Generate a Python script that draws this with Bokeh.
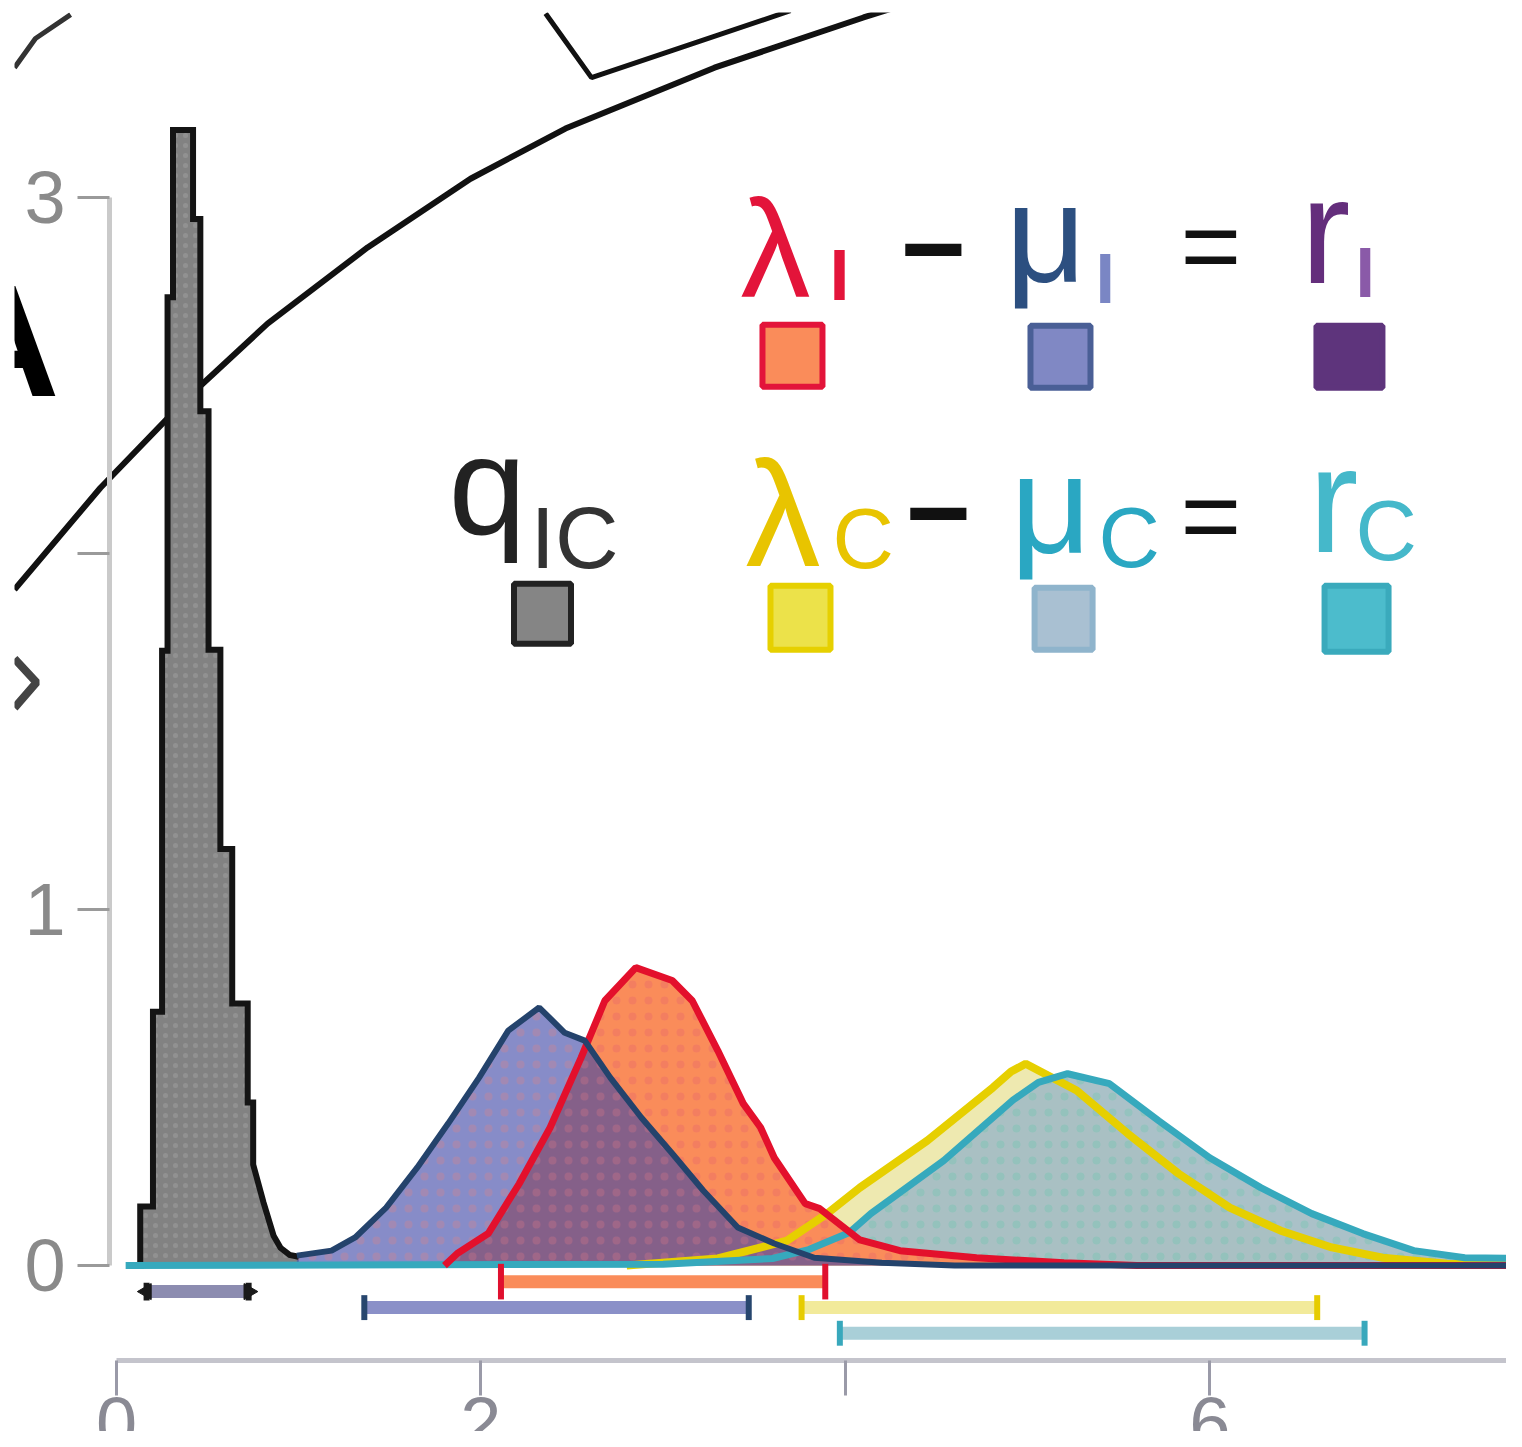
from bokeh.plotting import figure
from bokeh.models import Range1d, LinearAxis, FixedTicker, ColumnDataSource
from bokeh.core.properties import value
from bokeh.embed import file_html
from bokeh.resources import INLINE

FONT = "Liberation Sans"

# ---------------- data ----------------
q_edges = [0.13, 0.20, 0.25, 0.28, 0.31, 0.42, 0.46, 0.505, 0.57, 0.635, 0.72, 0.75]
q_heights = [0.166, 0.713, 1.727, 2.72, 3.19, 2.94, 2.40, 1.73, 1.17, 0.736, 0.458]
q_tail_x = [0.75, 0.75, 0.807, 0.862, 0.90, 0.95, 1.00]
q_tail_y = [0.458, 0.284, 0.177, 0.084, 0.05, 0.03, 0.025]

mu_i_x = [0.99, 1.18, 1.31, 1.48, 1.65, 1.82, 1.99, 2.15, 2.32, 2.46, 2.57, 2.71,
          2.88, 3.05, 3.22, 3.41, 3.61, 3.83, 4.2, 4.6, 7.8]
mu_i_y = [0.028, 0.042, 0.079, 0.163, 0.275, 0.399, 0.528, 0.660, 0.725, 0.654, 0.632, 0.528,
          0.416, 0.315, 0.211, 0.107, 0.062, 0.022, 0.008, 0.0, 0.0]

lam_i_x = [1.8, 1.87, 2.04, 2.21, 2.38, 2.55, 2.68, 2.85, 3.05, 3.16, 3.30, 3.44,
           3.535, 3.61, 3.78, 3.86, 4.08, 4.30, 4.72, 5.2, 5.6, 7.8]
lam_i_y = [0.0, 0.034, 0.090, 0.230, 0.388, 0.584, 0.744, 0.837, 0.801, 0.744, 0.604, 0.455,
           0.388, 0.303, 0.174, 0.160, 0.072, 0.042, 0.022, 0.008, 0.0, 0.0]

lam_c_x = [2.8, 3.3, 3.68, 3.90, 4.08, 4.45, 4.81, 4.91, 4.99, 5.27, 5.55, 5.83, 6.11,
           6.39, 6.67, 6.95, 7.3, 7.8]
lam_c_y = [0.0, 0.02, 0.070, 0.146, 0.219, 0.351, 0.500, 0.545, 0.567, 0.492, 0.371, 0.258, 0.163,
           0.098, 0.051, 0.022, 0.005, 0.0]

mu_c_x = [0.05, 3.0, 3.6, 3.8, 4.02, 4.14, 4.54, 4.92, 5.06, 5.22, 5.45, 5.72, 6.0,
          6.28, 6.56, 6.84, 7.12, 7.40, 7.71, 7.8]
mu_c_y = [0.0, 0.004, 0.02, 0.045, 0.092, 0.146, 0.295, 0.465, 0.515, 0.539, 0.511, 0.407, 0.303,
          0.219, 0.146, 0.090, 0.042, 0.022, 0.02, 0.018]

int_lo = [0.165, 1.36, 2.11, 3.76, 3.97]
int_hi = [0.725, 3.47, 3.89, 6.59, 6.85]
int_row = [-0.073, -0.118, -0.045, -0.118, -0.19]
int_cap = [0.025, 0.035, 0.05, 0.035, 0.035]
int_bar_color = ["#8c8cb0", "#8a90c8", "#fa8c5a", "#f2ea9a", "#a9cfd8"]
int_cap_color = ["#1a1a1a", "#27466e", "#e0102e", "#e6cc00", "#38a8bc"]

y_ticks = [0, 1, 2, 3]
y_tick_labels = ["0", "1", "", "3"]
x_ticks = [0, 2, 4, 6, 8]
x_tick_labels = ["0", "2", "", "6", "8"]

arc_x = [-0.560, -0.088, 0.390, 0.829, 1.378, 1.943, 2.464, 3.282, 4.100, 4.303]
arc_y = [1.899, 2.185, 2.438, 2.646, 2.860, 3.053, 3.194, 3.365, 3.506, 3.539]
corner_x = [2.355, 2.607, 3.699]
corner_y = [3.517, 3.337, 3.525]
tl_x = [-0.560, -0.445, -0.252]
tl_y = [3.365, 3.447, 3.514]
wedge_x = [-0.560, -0.439, -0.560]
wedge_y = [1.705, 1.638, 1.567]

SHIFT = 0.35 / 356.0


def up(y, fs):
    return y + SHIFT * fs


# ---------------- figure ----------------
p = figure(width=1506, height=1431, output_backend="svg", toolbar_location=None,
           x_range=Range1d(-0.560, 7.629), y_range=Range1d(-0.466, 3.520),
           x_axis_location=None, y_axis_location=None,
           min_border_left=14, min_border_top=12, min_border_right=0, min_border_bottom=0)
p.outline_line_color = None
p.xgrid.visible = False
p.ygrid.visible = False

yax = LinearAxis(fixed_location=-0.038, bounds=(0, 3))
yax.ticker = FixedTicker(ticks=y_ticks)
yax.major_label_overrides = {t: l for t, l in zip(y_ticks, y_tick_labels)}
yax.minor_tick_line_color = None
yax.axis_line_color = "#cacaca"
yax.axis_line_width = 5
yax.major_tick_line_color = "#9a9a9a"
yax.major_tick_line_width = 3
yax.major_tick_out = 32
yax.major_tick_in = 0
yax.major_label_text_font = FONT
yax.major_label_text_font_size = "74px"
yax.major_label_text_color = "#8a8a8a"
yax.major_label_standoff = 12
p.add_layout(yax, "left")

xax = LinearAxis(fixed_location=-0.267, bounds=(0, 9))
xax.ticker = FixedTicker(ticks=x_ticks)
xax.major_label_overrides = {t: l for t, l in zip(x_ticks, x_tick_labels)}
xax.minor_tick_line_color = None
xax.axis_line_color = "#c4c4cc"
xax.axis_line_width = 5
xax.major_tick_line_color = "#9a9aa8"
xax.major_tick_line_width = 3
xax.major_tick_out = 35
xax.major_tick_in = 0
xax.major_label_text_font = FONT
xax.major_label_text_font_size = "74px"
xax.major_label_text_color = "#8a8a94"
xax.major_label_standoff = 2
p.add_layout(xax, "below")

# neighbouring-panel fragments
p.line(arc_x, arc_y, line_color="#111111", line_width=6)
p.line(corner_x, corner_y, line_color="#111111", line_width=5)
p.line(tl_x, tl_y, line_color="#333333", line_width=5)
p.line(wedge_x, wedge_y, line_color="#444444", line_width=8)

# ---------------- fills ----------------
hx = [q_edges[0]]
hy = [0.0]
for i, h in enumerate(q_heights):
    hx += [q_edges[i], q_edges[i + 1]]
    hy += [h, h]
line_hx = hx + q_tail_x[1:]
line_hy = hy + q_tail_y[1:]
poly_hx = line_hx + [q_tail_x[-1]]
poly_hy = line_hy + [0.0]

p.patch(poly_hx, poly_hy, fill_color="#828282", line_color=None,
        hatch_pattern=".", hatch_color="#a8a8a8", hatch_alpha=0.4, hatch_scale=10)
p.varea(x=lam_c_x, y1=[0] * len(lam_c_x), y2=lam_c_y, fill_color="#eee9b0")
p.varea(x=mu_c_x, y1=[0] * len(mu_c_x), y2=mu_c_y, fill_color="#a4bcc4", fill_alpha=0.93,
        hatch_pattern=".", hatch_color="#6cc6b0", hatch_alpha=0.35, hatch_scale=16)
p.varea(x=lam_i_x, y1=[0] * len(lam_i_x), y2=lam_i_y, fill_color="#fa8c5a",
        hatch_pattern=".", hatch_color="#e86a6a", hatch_alpha=0.4, hatch_scale=16)
p.varea(x=mu_i_x, y1=[0] * len(mu_i_x), y2=mu_i_y, fill_color="#3d45a6", fill_alpha=0.62,
        hatch_pattern=".", hatch_color="#e08080", hatch_alpha=0.3, hatch_scale=16)

# ---------------- lines ----------------
p.line(line_hx, line_hy, line_color="#141414", line_width=6, line_join="miter")
p.line(lam_c_x, lam_c_y, line_color="#e6cf00", line_width=8)
p.line(mu_c_x, mu_c_y, line_color="#36a9bd", line_width=7)
p.line(lam_i_x, lam_i_y, line_color="#e3102c", line_width=7)
p.line(mu_i_x, mu_i_y, line_color="#24436c", line_width=6)

# ---------------- intervals ----------------
isrc = ColumnDataSource(dict(lo=int_lo, hi=int_hi, row=int_row, bar=int_bar_color, cap=int_cap_color,
                             top=[r + c for r, c in zip(int_row, int_cap)],
                             bot=[r - c for r, c in zip(int_row, int_cap)]))
p.segment(x0="lo", y0="row", x1="hi", y1="row", source=isrc, line_color="bar", line_width=13)
p.segment(x0="lo", y0="top", x1="lo", y1="bot", source=isrc, line_color="cap", line_width=6)
p.segment(x0="hi", y0="top", x1="hi", y1="bot", source=isrc, line_color="cap", line_width=6)
p.scatter([int_lo[0]], [int_row[0]], marker="triangle", angle=1.5708, size=16,
          fill_color="#1a1a1a", line_color="#1a1a1a")
p.scatter([int_hi[0]], [int_row[0]], marker="triangle", angle=-1.5708, size=16,
          fill_color="#1a1a1a", line_color="#1a1a1a")

# ---------------- legend squares ----------------
sq = ColumnDataSource(dict(
    x=[2.338, 3.710, 5.181, 6.767, 3.754, 5.198, 6.806],
    y=[1.831, 2.556, 2.553, 2.553, 1.820, 1.817, 1.817],
    w=[57, 60, 60, 66, 60, 58, 64],
    h=[60, 62, 62, 62, 64, 62, 66],
    f=["#858585", "#fa8c5a", "#8088c4", "#5e347c", "#ece24a", "#a9c0d2", "#4cbccc"],
    l=["#222222", "#e3143a", "#4a5f96", "#5e347c", "#e6d000", "#8fb4cc", "#3aaabc"],
))
p.rect(x="x", y="y", width="w", height="h", width_units="screen", height_units="screen",
       fill_color="f", line_color="l", line_width=6, source=sq)

# ---------------- texts ----------------
p.text(x=[-0.313], y=[up(2.441, 160)], text=["A"], text_font=value(FONT), text_font_style="bold",
       text_font_size="160px", text_align="right", text_baseline="alphabetic", text_color="#000000")

big_x = [3.425, 4.879, 6.498, 1.822, 3.452, 4.907, 6.542]
big_y = [2.719, 2.761, 2.758, 2.053, 1.963, 2.000, 2.003]
big_t = ["λ", "μ", "r", "q", "λ", "μ", "r"]
big_s = [140, 140, 150, 140, 150, 140, 150]
big_c = ["#e3143a", "#2c4f80", "#642e7c", "#222222", "#e8c400", "#2aa7c2", "#45b8ca"]
for xx, yy, tt, ss, cc in zip(big_x, big_y, big_t, big_s, big_c):
    p.text(x=[xx], y=[up(yy, ss)], text=[tt], text_font=value(FONT), text_font_size=f"{ss}px",
           text_color=cc, text_baseline="alphabetic", text_align="left")

sub_x = [3.913, 5.373, 6.800, 2.272, 3.930, 5.390, 6.800]
sub_y = [2.711, 2.702, 2.719, 1.958, 1.958, 1.963, 1.980]
sub_t = ["I", "I", "I", "IC", "C", "C", "C"]
sub_s = [72, 70, 70, 88, 85, 85, 85]
sub_w = ["bold", "bold", "bold", "normal", "normal", "normal", "normal"]
sub_c = ["#e3143a", "#7a86c4", "#8a5aa8", "#333333", "#e8c400", "#2aa7c2", "#45b8ca"]
for xx, yy, tt, ss, ww, cc in zip(sub_x, sub_y, sub_t, sub_s, sub_w, sub_c):
    p.text(x=[xx], y=[up(yy, ss)], text=[tt], text_font=value(FONT), text_font_size=f"{ss}px",
           text_font_style=ww, text_color=cc, text_baseline="alphabetic", text_align="left")

minus_x = [4.303, 4.330]
minus_y = [2.747, 2.006]
for xx, yy in zip(minus_x, minus_y):
    p.text(x=[xx], y=[up(yy, 112)], text=["−"], text_font=value(FONT), text_font_size="112px",
           text_font_style="bold", text_color="#111111", text_baseline="alphabetic", text_align="left")

eq_x = [5.840, 5.840]
eq_y = [2.764, 2.006]
for xx, yy in zip(eq_x, eq_y):
    p.text(x=[xx], y=[up(yy, 104)], text=["="], text_font=value(FONT), text_font_size="104px",
           text_color="#111111", text_baseline="alphabetic", text_align="left")

open("out.html", "w").write(file_html(p, INLINE))
